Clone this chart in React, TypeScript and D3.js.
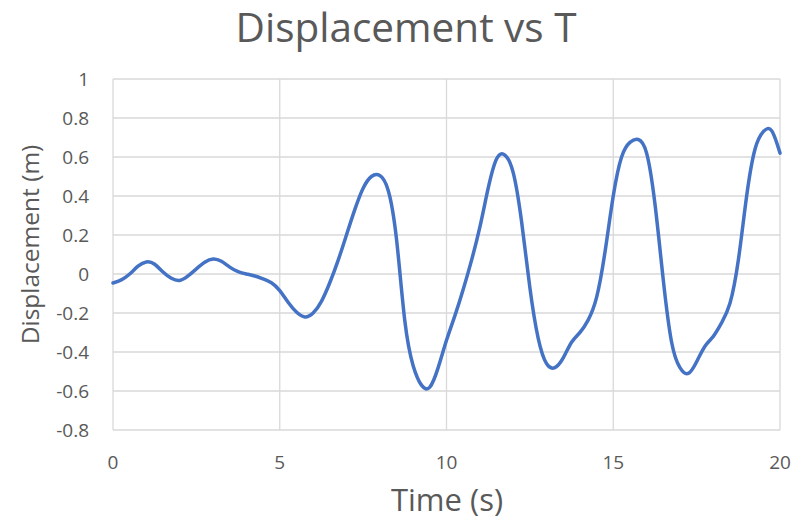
import React from "react";
import * as d3 from "d3";

// Displacement readings every 0.25 s (seconds, metres)
const times: number[] = [
  0, 0.25, 0.5, 0.75, 1, 1.25, 1.5, 1.75, 2, 2.25, 2.5, 2.75, 3, 3.25, 3.5,
  3.75, 4, 4.25, 4.5, 4.75, 5, 5.25, 5.5, 5.75, 6, 6.25, 6.5, 6.75, 7, 7.25,
  7.5, 7.75, 8, 8.25, 8.5, 8.75, 9, 9.25, 9.5, 9.75, 10, 10.25, 10.5, 10.75,
  11, 11.25, 11.5, 11.75, 12, 12.25, 12.5, 12.75, 13, 13.25, 13.5, 13.75, 14,
  14.25, 14.5, 14.75, 15, 15.25, 15.5, 15.75, 16, 16.25, 16.5, 16.75, 17,
  17.25, 17.5, 17.75, 18, 18.25, 18.5, 18.75, 19, 19.25, 19.5, 19.75, 20,
];
const displacement: number[] = [
  -0.046, -0.03, 0.0, 0.04, 0.062, 0.05, 0.01, -0.022, -0.033, -0.01, 0.026,
  0.06, 0.077, 0.065, 0.035, 0.012, 0.0, -0.01, -0.025, -0.045, -0.085, -0.145,
  -0.195, -0.22, -0.2, -0.14, -0.045, 0.07, 0.2, 0.33, 0.44, 0.5, 0.505, 0.43,
  0.18, -0.24, -0.47, -0.57, -0.58, -0.48, -0.34, -0.215, -0.08, 0.07, 0.24,
  0.44, 0.59, 0.61, 0.52, 0.27, -0.07, -0.33, -0.46, -0.48, -0.43, -0.35, -0.3,
  -0.235, -0.12, 0.11, 0.4, 0.6, 0.675, 0.69, 0.62, 0.36, -0.03, -0.35, -0.48,
  -0.51, -0.45, -0.37, -0.32, -0.25, -0.15, 0.07, 0.4, 0.64, 0.73, 0.735, 0.62,
];
const xTicks: number[] = [0, 5, 10, 15, 20];
const yTicks: number[] = [-0.8, -0.6, -0.4, -0.2, 0, 0.2, 0.4, 0.6, 0.8, 1];

const W = 793;
const H = 522;
const margin = { left: 113, right: 13, top: 79, bottom: 92 };
const FONT = "'Open Sans', 'DejaVu Sans', sans-serif";
const TEXT = "#595959";
const GRID = "#d9d9d9";

export default function App() {
  const x = d3
    .scaleLinear()
    .domain([0, 20])
    .range([margin.left, W - margin.right]);
  const y = d3
    .scaleLinear()
    .domain([-0.8, 1])
    .range([H - margin.bottom, margin.top]);

  const pts = times.map((t, i) => [t, displacement[i]] as [number, number]);
  const line = d3
    .line<[number, number]>()
    .x((d) => x(d[0]))
    .y((d) => y(d[1]))
    .curve(d3.curveNatural);

  const fmt = (v: number) => (Math.abs(v) < 1e-9 ? "0" : String(+v.toFixed(1)));

  return (
    <svg
      width={W}
      height={H}
      style={{ position: "absolute", left: 0, top: 0, background: "#fff" }}
      fontFamily={FONT}
    >
      <rect x={0} y={0} width={W} height={H} fill="#fff" />
      {/* grid */}
      {yTicks.map((v) => (
        <line
          key={"gy" + v}
          x1={x(0)}
          x2={x(20)}
          y1={y(v)}
          y2={y(v)}
          stroke={GRID}
          strokeWidth={1.3}
        />
      ))}
      {xTicks.map((v) => (
        <line
          key={"gx" + v}
          x1={x(v)}
          x2={x(v)}
          y1={y(-0.8)}
          y2={y(1)}
          stroke={GRID}
          strokeWidth={1.3}
        />
      ))}
      {/* tick labels */}
      {yTicks.map((v) => (
        <text
          key={"ty" + v}
          x={89}
          y={y(v)}
          dy="0.35em"
          textAnchor="end"
          fontSize={19}
          fill={TEXT}
        >
          {fmt(v)}
        </text>
      ))}
      {xTicks.map((v) => (
        <text
          key={"tx" + v}
          x={x(v)}
          y={469}
          textAnchor="middle"
          fontSize={19}
          fill={TEXT}
        >
          {v}
        </text>
      ))}
      {/* data line */}
      <path
        d={line(pts) || ""}
        fill="none"
        stroke="#4472c4"
        strokeWidth={3.5}
        strokeLinejoin="round"
        strokeLinecap="round"
      />
      {/* titles */}
      <text x={406} y={42} textAnchor="middle" fontSize={40.5} fill={TEXT}>
        Displacement vs T
      </text>
      <text x={447} y={511} textAnchor="middle" fontSize={31} fill={TEXT}>
        Time (s)
      </text>
      <text
        transform={`translate(39,${244.5}) rotate(-90)`}
        textAnchor="middle"
        fontSize={24.5}
        fill={TEXT}
      >
        Displacement (m)
      </text>
    </svg>
  );
}
